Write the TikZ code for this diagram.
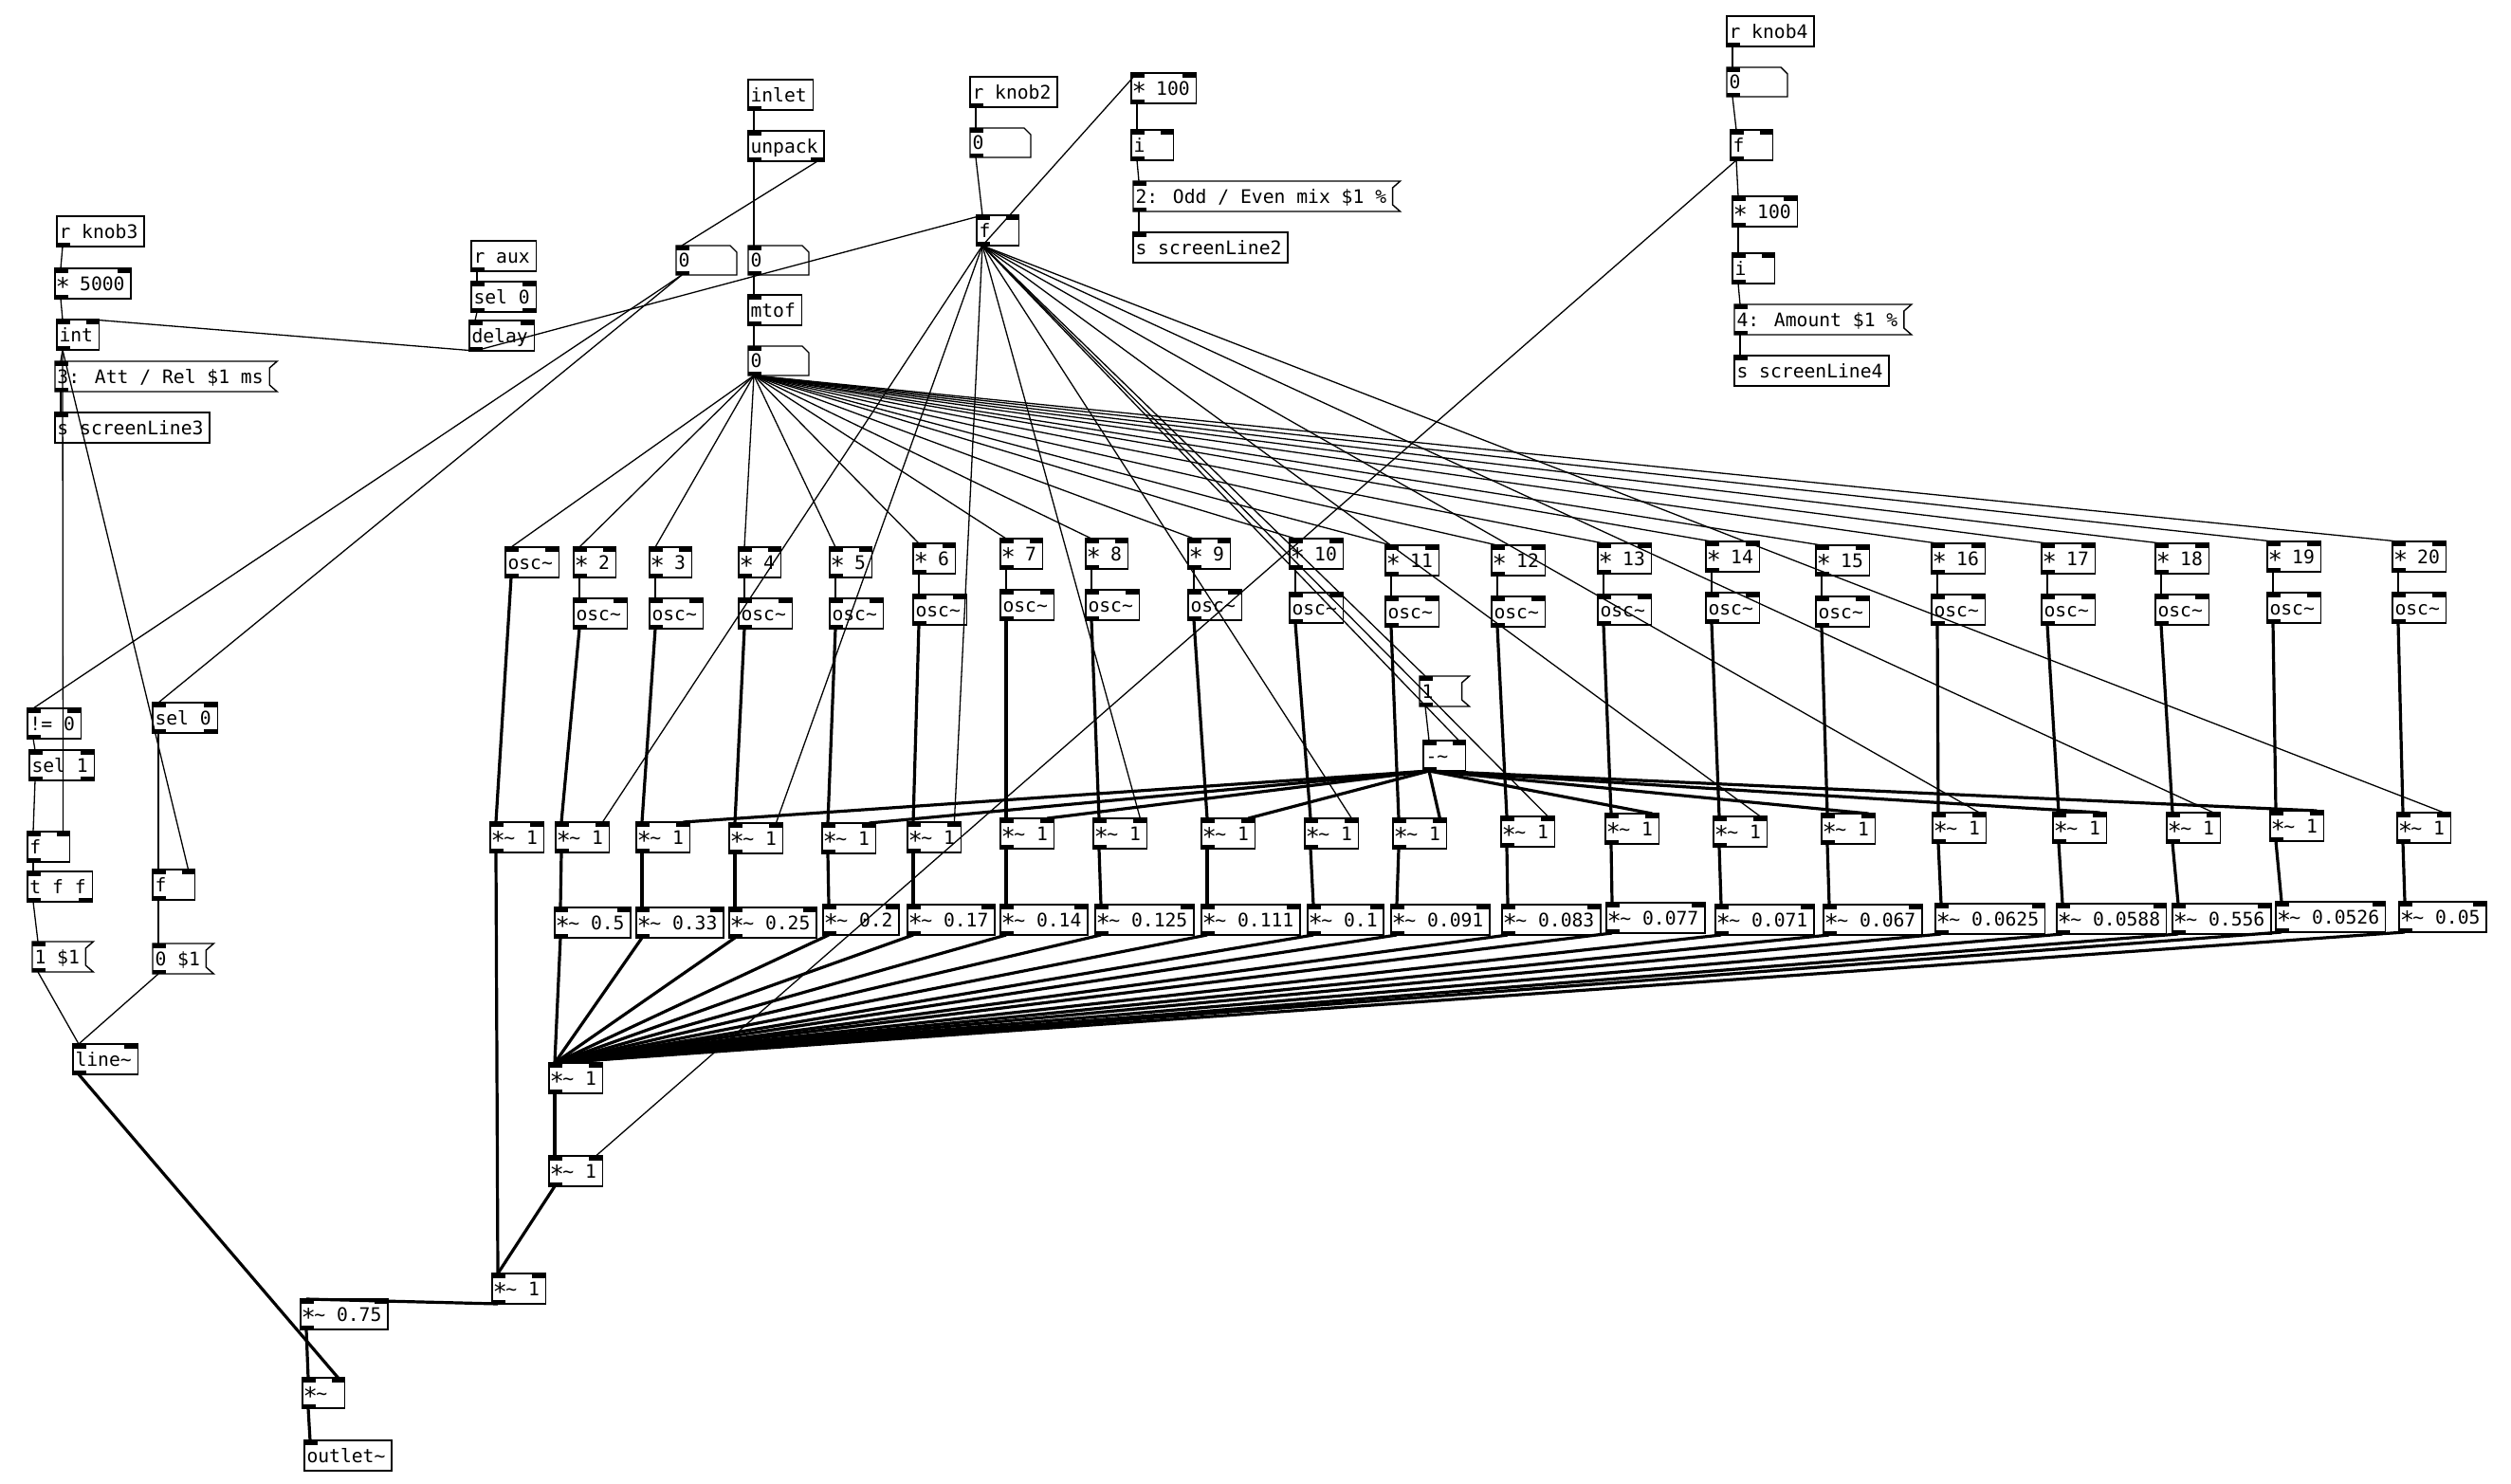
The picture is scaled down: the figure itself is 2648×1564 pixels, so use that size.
\documentclass[tikz,border=0pt]{standalone}
\usepackage{fontspec}
\newfontfamily\pdmono{DejaVu Sans Mono}
\newcommand\pdfnt{\pdmono\fontsize{19.68pt}{22pt}\selectfont}
\newcommand\pdt{\char126\relax}
\newcommand\pds{\makebox[0.602em][c]{\raisebox{-0.3em}{\scalebox{1.3}{*}}}}
\newsavebox\pdsbox
\newcommand\pdfit[1]{\sbox\pdsbox{#1}\ifdim\wd\pdsbox<35.55pt\makebox[35.55pt][l]{#1}\else\usebox\pdsbox\fi}
\tikzset{
  boxln/.style={line width=1.4pt},
  ctl/.style={line width=1.3pt},
  sig/.style={line width=3.2pt},
  pdtext/.style={anchor=base west, inner sep=0pt, font=\pdfnt},
  pdbox/.style={anchor=north west, line width=1.4pt, outer sep=0pt,
    inner xsep=4.5pt, inner ysep=0pt, minimum height=32pt,
    text height=16pt, text depth=2pt, font=\pdfnt},
}
% iolets from node anchors: name nin nout
\newcommand\pdio[3]{%
  \coordinate (#1-i0) at ([xshift=6pt]#1.north west);
  \coordinate (#1-i1) at ([xshift=-7pt]#1.north east);
  \coordinate (#1-o0) at ([xshift=6pt]#1.south west);
  \coordinate (#1-o1) at ([xshift=-7pt]#1.south east);
  \ifnum#2>0 \fill (#1.north west) rectangle ++(14,4.5);\fi
  \ifnum#2>1 \fill (#1.north east) rectangle ++(-14,4.5);\fi
  \ifnum#3>0 \fill (#1.south west) rectangle ++(14,-4.5);\fi
  \ifnum#3>1 \fill (#1.south east) rectangle ++(-14,-4.5);\fi
}
% name x y text nin nout
\newcommand\pdobj[6]{%
  \node[pdbox,draw] (#1) at (#2,#3) {\hspace*{-2pt}\pdfit{#4}\hspace*{2pt}};
  \pdio{#1}{#5}{#6}%
}
% name x y text
\newcommand\pdmsg[4]{%
  \node[pdbox] (#1) at (#2,#3) {\hspace*{-2pt}\pdfit{#4}\hspace*{2pt}};
  \draw[boxln] (#1.north west) -- ([xshift=8pt]#1.north east) -- ([yshift=-7pt]#1.north east)
     -- ([yshift=7pt]#1.south east) -- ([xshift=8pt]#1.south east) -- (#1.south west) -- cycle;
  \pdio{#1}{1}{1}%
}
% name x y
\newcommand\pdnum[3]{%
  \coordinate (#1-tl) at (#2,#3);
  \draw[boxln] (#1-tl) -- ++(57,0) -- ++(7,7) -- ++(0,24) -- ++(-64,0) -- cycle;
  \node[pdtext] (#1) at (#2+2.5,#3+22.5) {0};
  \coordinate (#1-i0) at (#2+6,#3);
  \coordinate (#1-o0) at (#2+6,#3+31);
  \fill (#2,#3) rectangle ++(14,4.5);
  \fill (#2,#3+31) rectangle ++(14,-4.5);
}
\begin{document}
\begin{tikzpicture}[x=1pt,y=-1pt]
\fill[white] (0,0) rectangle (2648,1564);
\useasboundingbox (0,0) rectangle (2648,1564);

% ---- left: knob3 chain
\pdobj{rk3}{60}{228}{r knob3}{0}{1}
\pdobj{m5000}{58}{283}{\pds{} 5000}{2}{1}
\pdobj{int}{60}{337}{int}{2}{1}
\pdmsg{msg3}{58}{381}{3: Att / Rel \$1 ms}
\pdobj{sl3}{58}{435}{s screenLine3}{1}{0}
% ---- aux
\pdobj{raux}{497}{254}{r aux}{0}{1}
\pdobj{sel0a}{497}{297}{sel 0}{2}{2}
\pdobj{delay}{495}{338}{delay}{2}{1}
% ---- inlet chain
\pdobj{inlet}{789}{84}{inlet}{0}{1}
\pdobj{unpack}{789}{138}{unpack}{1}{2}
\pdnum{numvel}{713}{259}
\pdnum{numnote}{789}{259}
\pdobj{mtof}{789}{311}{mtof}{1}{1}
\pdnum{numfreq}{789}{365}
% ---- knob2
\pdobj{rk2}{1023}{81}{r knob2}{0}{1}
\pdnum{numk2}{1023}{135}
\pdobj{fk2}{1030}{227}{f}{2}{1}
\pdobj{m100a}{1193}{77}{\pds{} 100}{2}{1}
\pdobj{ia}{1193}{137}{i}{2}{1}
\pdmsg{msg2}{1195}{191}{2: Odd / Even mix \$1 \%}
\pdobj{sl2}{1195}{245}{s screenLine2}{1}{0}
% ---- knob4
\pdobj{rk4}{1821}{17}{r knob4}{0}{1}
\pdnum{numk4}{1821}{71}
\pdobj{fk4}{1825}{137}{f}{2}{1}
\pdobj{m100b}{1827}{207}{\pds{} 100}{2}{1}
\pdobj{ib}{1827}{267}{i}{2}{1}
\pdmsg{msg4}{1829}{321}{4: Amount \$1 \%}
\pdobj{sl4}{1829}{375}{s screenLine4}{1}{0}
% ---- envelope
\pdobj{neq}{29}{747}{!= 0}{2}{1}
\pdobj{sel1}{31}{791}{sel 1}{2}{2}
\pdobj{fL}{29}{877}{f}{2}{1}
\pdobj{tff}{29}{919}{t f f}{1}{2}
\pdmsg{msg1s}{34}{993}{1 \$1}
\pdobj{sel0b}{161}{741}{sel 0}{2}{2}
\pdobj{fR}{161}{917}{f}{2}{1}
\pdmsg{msg0s}{161}{995}{0 \$1}
\pdobj{linet}{77}{1101}{line\pdt}{2}{1}
% ---- output
\pdobj{sum}{579}{1121}{\pds\pdt{} 1}{2}{1}
\pdobj{amt}{579}{1219}{\pds\pdt{} 1}{2}{1}
\pdobj{fin}{519}{1343}{\pds\pdt{} 1}{2}{1}
\pdobj{m075}{317}{1370}{\pds\pdt{} 0.75}{2}{1}
\pdobj{mul}{319}{1453}{\pds\pdt}{2}{1}
\pdobj{out}{321}{1519}{outlet\pdt}{1}{0}
% ---- odd/even
\pdmsg{one}{1497}{713}{1}
\pdobj{minus}{1501}{781}{-\pdt}{2}{1}
% ---- harmonics
\pdobj{osc1}{533}{577}{osc\pdt}{2}{1}
\pdobj{am1}{517}{867}{\pds\pdt{} 1}{2}{1}
\foreach \hn/\hmx/\hmy/\hox/\hoy/\hax/\hay/\hcx/\hcy/\hct in {
 2/605/577/605/631/586/867/585/957/0.5,
 3/685/577/685/631/671/867/671/957/0.33,
 4/779/577/779/631/769/868/769/957/0.25,
 5/875/577/875/631/867/868/868/954/0.2,
 6/963/573/963/627/957/867/957/954/0.17,
 7/1055/568/1055/622/1055/863/1055/954/0.14,
 8/1145/568/1145/622/1153/863/1155/954/0.125,
 9/1253/568/1253/622/1267/863/1267/954/0.111,
 10/1360/568/1360/625/1376/863/1379/954/0.1,
 11/1461/575/1461/629/1469/863/1467/954/0.091,
 12/1573/575/1573/629/1583/861/1584/954/0.083,
 13/1685/573/1685/627/1693/858/1694/952/0.077,
 14/1799/571/1799/625/1807/861/1809/954/0.071,
 15/1915/575/1915/629/1921/858/1923/954/0.067,
 16/2037/573/2037/627/2038/857/2041/953/0.0625,
 17/2153/573/2153/627/2165/857/2169/953/0.0588,
 18/2273/573/2273/627/2285/857/2291/953/0.556,
 19/2391/571/2391/625/2394/855/2400/951/0.0526,
 20/2523/571/2523/625/2528/857/2530/951/0.05}{
  \pdobj{mul\hn}{\hmx}{\hmy}{\pds{} \hn}{2}{1}
  \pdobj{osc\hn}{\hox}{\hoy}{osc\pdt}{2}{1}
  \pdobj{am\hn}{\hax}{\hay}{\pds\pdt{} 1}{2}{1}
  \pdobj{cf\hn}{\hcx}{\hcy}{\pds\pdt{} \hct}{2}{1}
}

% ================= connections
\draw[ctl] (rk3-o0) -- (m5000-i0);
\draw[ctl] (m5000-o0) -- (int-i0);
\draw[ctl] (int-o0) -- (msg3-i0);
\draw[ctl] (msg3-o0) -- (sl3-i0);
\draw[ctl] (int-o0) -- (fL-i1);
\draw[ctl] (int-o0) -- (fR-i1);
\draw[ctl] (delay-o0) -- (int-i1);
\draw[ctl] (raux-o0) -- (sel0a-i0);
\draw[ctl] (sel0a-o0) -- (delay-i0);
\draw[ctl] (delay-o0) -- (fk2-i0);
\draw[ctl] (inlet-o0) -- (unpack-i0);
\draw[ctl] (unpack-o0) -- (numnote-i0);
\draw[ctl] (unpack-o1) -- (numvel-i0);
\draw[ctl] (numnote-o0) -- (mtof-i0);
\draw[ctl] (mtof-o0) -- (numfreq-i0);
\draw[ctl] (numfreq-o0) -- (osc1-i0);
\draw[ctl] (numvel-o0) -- (neq-i0);
\draw[ctl] (numvel-o0) -- (sel0b-i0);
\draw[ctl] (neq-o0) -- (sel1-i0);
\draw[ctl] (sel1-o0) -- (fL-i0);
\draw[ctl] (fL-o0) -- (tff-i0);
\draw[ctl] (tff-o0) -- (msg1s-i0);
\draw[ctl] (msg1s-o0) -- (linet-i0);
\draw[ctl] (sel0b-o0) -- (fR-i0);
\draw[ctl] (fR-o0) -- (msg0s-i0);
\draw[ctl] (msg0s-o0) -- (linet-i0);
\draw[ctl] (rk2-o0) -- (numk2-i0);
\draw[ctl] (numk2-o0) -- (fk2-i0);
\draw[ctl] (fk2-o0) -- (m100a-i0);
\draw[ctl] (m100a-o0) -- (ia-i0);
\draw[ctl] (ia-o0) -- (msg2-i0);
\draw[ctl] (msg2-o0) -- (sl2-i0);
\draw[ctl] (fk2-o0) -- (one-i0);
\draw[ctl] (fk2-o0) -- (minus-i1);
\draw[ctl] (one-o0) -- (minus-i0);
\draw[ctl] (rk4-o0) -- (numk4-i0);
\draw[ctl] (numk4-o0) -- (fk4-i0);
\draw[ctl] (fk4-o0) -- (m100b-i0);
\draw[ctl] (m100b-o0) -- (ib-i0);
\draw[ctl] (ib-o0) -- (msg4-i0);
\draw[ctl] (msg4-o0) -- (sl4-i0);
\draw[ctl] (fk4-o0) -- (amt-i1);
\foreach \hn in {2,...,20}{
  \draw[ctl] (numfreq-o0) -- (mul\hn-i0);
  \draw[ctl] (mul\hn-o0) -- (osc\hn-i0);
  \draw[sig] (am\hn-o0) -- (cf\hn-i0);
  \draw[sig] (cf\hn-o0) -- (sum-i0);
}
\foreach \hn in {1,...,20}{
  \draw[sig] (osc\hn-o0) -- (am\hn-i0);
}
\foreach \hn in {2,4,...,20}{
  \draw[ctl] (fk2-o0) -- (am\hn-i1);
}
\foreach \hn in {3,5,...,19}{
  \draw[sig] (minus-o0) -- (am\hn-i1);
}
\draw[sig] (am1-o0) -- (fin-i0);
\draw[sig] (sum-o0) -- (amt-i0);
\draw[sig] (amt-o0) -- (fin-i0);
\draw[sig] (fin-o0) -- (m075-i0);
\draw[sig] (m075-o0) -- (mul-i0);
\draw[sig] (linet-o0) -- (mul-i1);
\draw[sig] (mul-o0) -- (out-i0);
\end{tikzpicture}
\end{document}
